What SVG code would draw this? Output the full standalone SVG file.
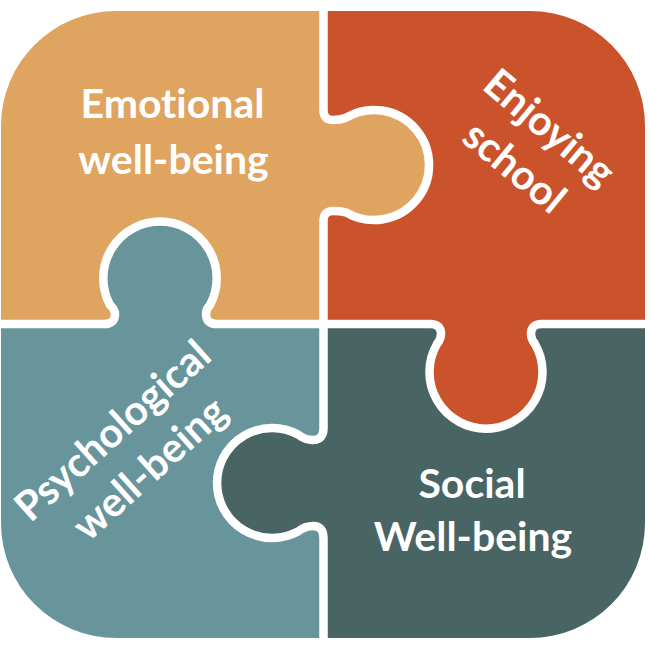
<svg xmlns="http://www.w3.org/2000/svg" width="650" height="647" viewBox="0 0 650 647">
<style>
.t{font-family:"Lato","Open Sans",sans-serif;font-weight:700;font-size:41px;fill:#fff;text-anchor:middle;font-variant-ligatures:none}
.s{fill:none;stroke:#fff;stroke-width:8.5;stroke-linejoin:round}
</style>
<rect width="650" height="647" fill="#fff"/>
<g id="emotional">
<path fill="#E0A461" d="M116 11H323.5V110Q323.5 120 333 120Q340 120 346 117.7A55 55 0 1 1 346 212.3Q340 211 333 211Q323.5 211 323.5 221V324H1V126A115 115 0 0 1 116 11Z"/>
<text class="t" x="172.500" y="118">Emotional</text>
<text class="t" x="173.500" y="174">well-being</text>
</g>
<g id="enjoying">
<path fill="#CB532B" d="M323.5 11H530A115 115 0 0 1 645 126V324H542Q531 324 531 334Q531 339 535 344A56.500 56.500 0 1 1 437 344Q441 339 441 334Q441 324 430 324H323.5V221Q323.5 211 333 211Q340 211 346 212.3A55 55 0 1 0 346 117.7Q340 120 333 120Q323.5 120 323.5 110Z"/>
<text class="t" transform="translate(540.500 138.500) rotate(40)">Enjoying</text>
<text class="t" transform="translate(505.500 178) rotate(39.500)">school</text>
</g>
<g id="psychological">
<path fill="#68959B" d="M1 324H104Q115 324 115 314Q115 309 110 305A56.700 56.700 0 1 1 210 305Q206 309 206 314Q206 324 217 324H323.5V428Q323.5 440 313 440Q305 440 298 434.5A55 55 0 1 0 298 531.5Q305 526 313 526Q323.5 526 323.5 538V638H116A115 115 0 0 1 1 523Z"/>
<text class="t" transform="translate(122 441) rotate(-42)">Psychological</text>
<text class="t" transform="translate(159 479) rotate(-42)">well-being</text>
</g>
<g id="social">
<path fill="#486463" d="M323.5 324H430Q441 324 441 334Q441 339 437 344A56.500 56.500 0 1 0 535 344Q531 339 531 334Q531 324 542 324H645V523A115 115 0 0 1 530 638H323.5V538Q323.5 526 313 526Q305 526 298 531.5A55 55 0 1 1 298 434.5Q305 440 313 440Q323.5 440 323.5 428Z"/>
<text class="t" x="472" y="498">Social</text>
<text class="t" x="473" y="551">Well-being</text>
</g>
<g id="connectors">
<path class="s" d="M323.5 11V110Q323.5 120 333 120Q340 120 346 117.7A55 55 0 1 1 346 212.3Q340 211 333 211Q323.5 211 323.5 221V324"/>
<path class="s" d="M323.5 324V428Q323.5 440 313 440Q305 440 298 434.5A55 55 0 1 0 298 531.5Q305 526 313 526Q323.5 526 323.5 538V638"/>
<path class="s" d="M1 324H104Q115 324 115 314Q115 309 110 305A56.700 56.700 0 1 1 210 305Q206 309 206 314Q206 324 217 324H323.5"/>
<path class="s" d="M323.5 324H430Q441 324 441 334Q441 339 437 344A56.500 56.500 0 1 0 535 344Q531 339 531 334Q531 324 542 324H645"/>
</g>
</svg>
